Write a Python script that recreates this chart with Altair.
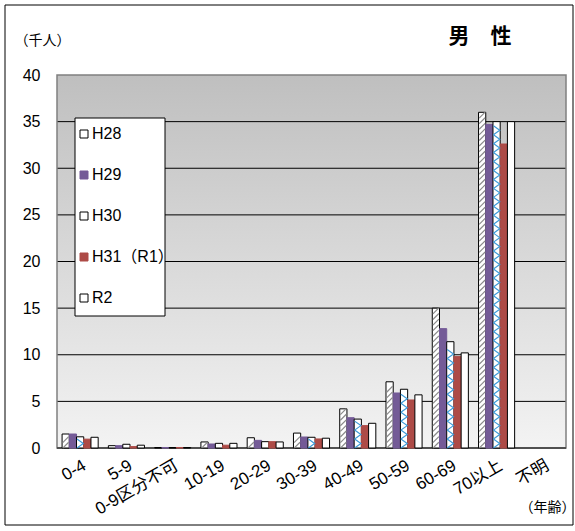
import altair as alt
import pandas as pd

# Age groups (x axis) and survey years (series)
categories = ["0-4", "5-9", "0-9区分不可", "10-19", "20-29", "30-39",
              "40-49", "50-59", "60-69", "70以上", "不明"]
series = ["H28", "H29", "H30", "H31（R1）", "R2"]

# Values in thousands of persons
h28 = [1.5, 0.25, 0.05, 0.65, 1.1, 1.6, 4.2, 7.1, 15.0, 36.0, 0.0]
h29 = [1.5, 0.25, 0.05, 0.43, 0.82, 1.18, 3.25, 5.9, 12.8, 34.7, 0.0]
h30 = [1.2, 0.4, 0.05, 0.5, 0.68, 1.15, 3.1, 6.3, 11.4, 35.0, 0.0]
h31 = [0.95, 0.15, 0.05, 0.3, 0.68, 0.97, 2.4, 5.15, 9.8, 32.6, 0.0]
r2 = [1.15, 0.3, 0.05, 0.5, 0.65, 1.05, 2.65, 5.7, 10.2, 35.0, 0.0]

y_ticks = [0, 5, 10, 15, 20, 25, 30, 35, 40]

fills = ["#ffffff", "#745b97", "#ffffff", "#ad4b47", "#ffffff"]
strokes = ["#000000", "#745b97", "#000000", "#ad4b47", "#000000"]

LATIN = "Liberation Sans, Arial, Noto Sans CJK JP"
CJK = "Noto Sans CJK JP"

rows = []
for s, vals in zip(series, [h28, h29, h30, h31, r2]):
    for c, v in zip(categories, vals):
        rows.append({"age": c, "series": s, "value": v})
df = pd.DataFrame(rows)
bars_df = df[df["value"] > 0]


def pattern_rows(name, vals, step):
    """Positions of the pattern strokes stacked inside each bar."""
    out = []
    for c, v in zip(categories, vals):
        k = 0
        while (k + 1) * step <= v:
            out.append({"age": c, "series": name, "value": (k + 0.5) * step})
            k += 1
    return pd.DataFrame(out)


hatch_df = pattern_rows("H28", h28, 0.6)
zigzag_df = pattern_rows("H30", h30, 0.96)
grid_df = pd.DataFrame({"value": y_ticks[1:-1]})
one = pd.DataFrame({"k": [0]})

x_scale = alt.Scale(domain=categories, paddingInner=0.22, paddingOuter=0.11)
xo_scale = alt.Scale(domain=series, paddingInner=0, paddingOuter=0)
y_scale = alt.Scale(domain=[0, 40], nice=False, zero=True)

x_enc = alt.X("age:N", scale=x_scale)
xo_enc = alt.XOffset("series:N", scale=xo_scale)
y_enc = alt.Y("value:Q", scale=y_scale)

background = alt.Chart(one).mark_rect(
    fill=alt.Gradient(
        gradient="linear",
        stops=[alt.GradientStop(color="#bfbfbf", offset=0),
               alt.GradientStop(color="#f3f3f3", offset=1)],
        x1=0, x2=0, y1=0, y2=1,
    )
).encode(x=alt.value(0), x2=alt.value("width"), y=alt.value(0), y2=alt.value("height"))

grid = alt.Chart(grid_df).mark_rule(color="#000000", strokeWidth=1).encode(y=y_enc)

# white framed panel behind the legend entries
legend_panel = alt.Chart(one).mark_rect(
    fill="#ffffff", stroke="#000000", strokeWidth=1
).encode(x=alt.value(18), x2=alt.value(108), y=alt.value(43), y2=alt.value(241))

legend = alt.Legend(
    title=None, orient="none", legendX=14, legendY=46, padding=5,
    symbolType="square", symbolSize=64, symbolStrokeWidth=1,
    labelFontSize=16, labelFont=LATIN, labelColor="#000000",
    labelOffset=0, rowPadding=25,
)

bars = alt.Chart(bars_df).mark_bar(strokeWidth=1).encode(
    x=alt.X("age:N", scale=x_scale, axis=alt.Axis(
        title="（年齢）", titleX=462, titleY=63, titleAlign="left",
        titleBaseline="middle", titleFontSize=14, titleFontWeight="normal",
        titleFont=CJK, titleColor="#000000",
        labelAngle=-30, labelAlign="right", labelBaseline="top",
        labelFontSize=17, labelFont=LATIN, labelColor="#000000",
        labelPadding=9, domain=False, ticks=True, tickBand="extent",
        tickSize=4, tickColor="#000000", offset=-4, grid=False,
    )),
    xOffset=xo_enc,
    y=alt.Y("value:Q", scale=y_scale, axis=alt.Axis(
        values=y_ticks, title="（千人）", titleAngle=0, titleX=-43, titleY=-35,
        titleAlign="left", titleBaseline="middle", titleFontSize=14,
        titleFontWeight="normal", titleFont=CJK, titleColor="#000000",
        labelFontSize=16, labelFont=LATIN, labelColor="#000000",
        labelPadding=17, ticks=False, domain=False, grid=False,
    )),
    color=alt.Color("series:N", scale=alt.Scale(domain=series, range=fills), legend=legend),
    stroke=alt.Stroke("series:N", scale=alt.Scale(domain=series, range=strokes), legend=legend),
)

hatch = alt.Chart(hatch_df).mark_point(
    shape="M -0.85 0.85 L 0.85 -0.85", size=49, filled=False,
    stroke="#8a8a8a", strokeWidth=1.2, opacity=1,
).encode(x=x_enc, xOffset=xo_enc, y=y_enc)

zigzag = alt.Chart(zigzag_df).mark_point(
    shape="M -0.7 -1 L 0.7 0 L -0.7 1", size=81, filled=False,
    stroke="#3d9ad8", strokeWidth=1.2, opacity=1,
).encode(x=x_enc, xOffset=xo_enc, y=y_enc)

border = alt.Chart(one).mark_rect(
    fillOpacity=0, stroke="#808080", strokeWidth=1.5
).encode(x=alt.value(0), x2=alt.value("width"), y=alt.value(0), y2=alt.value("height"))

# darker base line along the zero level, kept beneath the bars
baseline = alt.Chart(pd.DataFrame({"value": [0]})).mark_rule(
    color="#505050", strokeWidth=2
).encode(y=y_enc)

frame = alt.Chart(one).mark_rect(
    fillOpacity=0, stroke="#000000", strokeWidth=1
).encode(x=alt.value(-52), x2=alt.value(516), y=alt.value(-70), y2=alt.value(450))

heading = alt.Chart(one).mark_text(
    text="男　性", fontSize=21, fontWeight="bold", font=CJK,
    align="center", baseline="middle", color="#000000",
).encode(x=alt.value(423), y=alt.value(-38))

chart = alt.layer(
    background, grid, legend_panel, border, baseline, bars, hatch, zigzag,
    frame, heading
).properties(
    width=509, height=373,
    padding={"left": 57, "top": 75, "right": 9, "bottom": 83},
    autosize=alt.AutoSizeParams(type="none"),
    background="#ffffff",
).configure_view(strokeWidth=0)

chart.save("out.html", embed_options={"renderer": "svg", "actions": False})
